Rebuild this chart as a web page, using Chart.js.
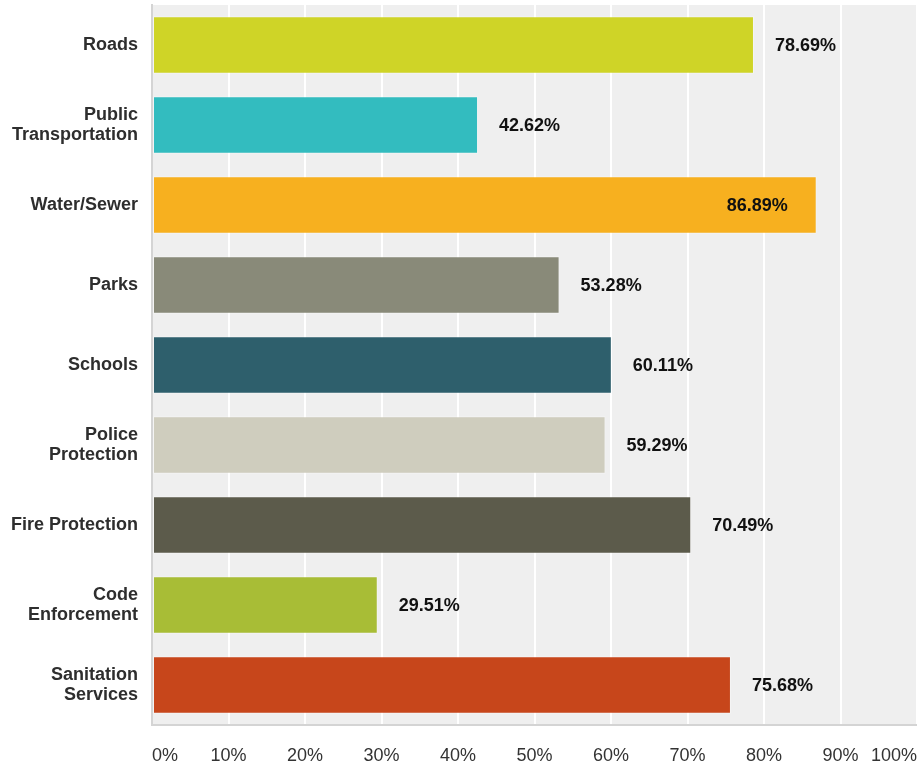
<!DOCTYPE html>
<html>
<head>
<meta charset="utf-8">
<script src="https://cdn.jsdelivr.net/npm/chart.js@4/dist/chart.umd.min.js"></script>
<style>
  html, body { margin: 0; padding: 0; background: #fff; overflow: hidden; }
  #wrap { width: 917px; height: 765px; position: relative; }
</style>
</head>
<body>
<div id="wrap"><canvas id="servChart"></canvas></div>
<script>
// 서비스별 응답 비율
const services = [
  'Roads',
  ['Public', 'Transportation'],
  'Water/Sewer',
  'Parks',
  'Schools',
  ['Police', 'Protection'],
  'Fire Protection',
  ['Code', 'Enforcement'],
  ['Sanitation', 'Services']
];
const percents = [78.69, 42.62, 86.89, 53.28, 60.11, 59.29, 70.49, 29.51, 75.68];
const barColors = ['#cfd427', '#33bcbf', '#f7b01f', '#898a79', '#2e5f6c', '#cfcdbe', '#5c5b4b', '#a8bd36', '#c7461b'];
const xTicks = [0, 10, 20, 30, 40, 50, 60, 70, 80, 90, 100];

const FONT = "'Liberation Sans', Arial, sans-serif";

// 플롯 영역 회색 배경
const plotBg = {
  id: 'plotBg',
  beforeDraw(chart) {
    const a = chart.chartArea, c = chart.ctx;
    c.save();
    c.fillStyle = '#efefef';
    c.fillRect(a.left, a.top, a.right - a.left, a.bottom - a.top);
    c.restore();
  }
};

// 막대 끝에 값 표시 (80% 넘으면 막대 안쪽)
const valueLabels = {
  id: 'valueLabels',
  afterDatasetsDraw(chart) {
    const c = chart.ctx;
    const meta = chart.getDatasetMeta(0);
    c.save();
    c.font = 'bold 18px ' + FONT;
    c.fillStyle = '#111';
    c.textBaseline = 'middle';
    meta.data.forEach((bar, i) => {
      const v = percents[i];
      const txt = v.toFixed(2) + '%';
      if (v > 80) {
        c.textAlign = 'right';
        c.fillText(txt, bar.x - 29, bar.y + 1);
      } else {
        c.textAlign = 'left';
        c.fillText(txt, bar.x + 21, bar.y + 1);
      }
    });
    c.restore();
  }
};

const ctx = document.getElementById('servChart');
new Chart(ctx, {
  type: 'bar',
  data: {
    labels: services,
    datasets: [{
      data: percents,
      backgroundColor: barColors,
      borderColor: 'rgba(255,255,255,0.35)',
      borderWidth: 1,
      borderSkipped: false,
      categoryPercentage: 1,
      barPercentage: 0.72
    }]
  },
  options: {
    indexAxis: 'y',
    responsive: true,
    maintainAspectRatio: false,
    animation: false,
    layout: { padding: { top: 5, right: 0, left: 0, bottom: 0 } },
    plugins: {
      legend: { display: false },
      tooltip: { enabled: false }
    },
    scales: {
      x: {
        min: 0,
        max: 100,
        afterBuildTicks(scale) {
          scale.ticks = xTicks.map(v => ({ value: v }));
        },
        afterFit(scale) {
          scale.height = 40;
          scale.paddingLeft = 0;
          scale.paddingRight = 0;
        },
        ticks: {
          align: 'inner',
          padding: 20,
          color: '#333',
          font: { family: FONT, size: 18 },
          callback: v => v + '%'
        },
        grid: {
          color: '#ffffff',
          lineWidth: 2,
          drawTicks: false
        },
        border: { color: '#d4d4d4', width: 2 }
      },
      y: {
        afterFit(scale) {
          scale.width = 152;
          scale.paddingTop = 0;
          scale.paddingBottom = 0;
        },
        ticks: {
          padding: 14,
          color: '#2e2e2e',
          font: { family: FONT, size: 18, weight: 'bold', lineHeight: 1.1 }
        },
        grid: { display: false, drawTicks: false },
        border: { color: '#d4d4d4', width: 2 }
      }
    }
  },
  plugins: [plotBg, valueLabels]
});
</script>
</body>
</html>
